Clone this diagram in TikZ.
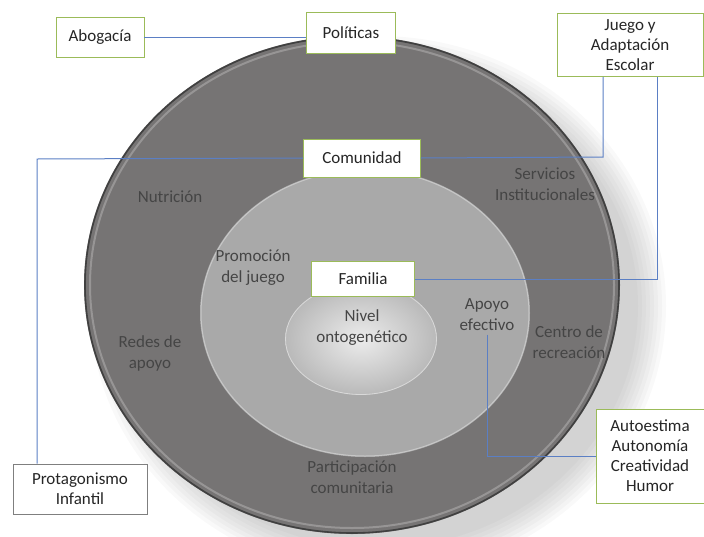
\documentclass[tikz,border=0pt]{standalone}
\usepackage{fontspec}
\setmainfont{Carlito}
\definecolor{verdecaja}{HTML}{9BBB59}
\definecolor{grisborde}{HTML}{7F7F7F}
\definecolor{azullinea}{HTML}{5B7FC4}
\definecolor{anilloext}{HTML}{767474}
\definecolor{anillomed}{HTML}{A9A9A9}
\definecolor{textoanillo}{HTML}{454545}
\tikzset{
  caja/.style={draw=verdecaja, line width=0.8pt, fill=white, align=center, inner sep=0pt, text=black!85},
  rotulo/.style={text=textoanillo, align=center, font=\fontsize{17}{21}\selectfont},
  enlace/.style={draw=azullinea, line width=1pt}
}
\begin{document}
\begin{tikzpicture}[x=1pt, y=-1pt, font=\fontsize{17}{20}\selectfont]
    \useasboundingbox (0,0) rectangle (704,536);
    % sombra
    \foreach \r in {0,4,...,28}
        \fill[black, opacity=0.025] (378,306) ellipse ({260+\r} and {242+\r});
    % anillos
    \fill[anilloext] (352,285) ellipse (268 and 249);
    \draw[black!75, line width=1.6pt] (352,285) ellipse (267 and 248);
    \draw[white!40!anilloext, line width=2pt, opacity=0.6] (352,285) ellipse (262 and 243);
    \fill[anillomed] (365,313) ellipse (165 and 144);
    \draw[white!35!anillomed, line width=1pt] (365,313) ellipse (164 and 143);
    \shade[inner color=gray!15, outer color=gray!55] (361,339) ellipse (76 and 56);
    \draw[gray!30, line width=0.8pt] (361,339) ellipse (75.5 and 55.5);
    % rotulos de los anillos
    \node[rotulo] (nutricion) at (170,197) {Nutrici\'on};
    \node[rotulo] (servicios) at (545,184) {Servicios\\Institucionales};
    \node[rotulo] (promocion) at (253,268) {Promoci\'on\\del juego};
    \node[rotulo] (redes) at (150,353) {Redes de\\apoyo};
    \node[rotulo] (centro) at (569,342) {Centro de\\recreaci\'on};
    \node[rotulo] (participacion) at (352,477) {Participaci\'on\\comunitaria};
    \node[rotulo] (nivel) at (362,328) {Nivel\\ontogen\'etico};
    \node[rotulo] (apoyo) at (487,315) {Apoyo\\efectivo};
    % cajas
    \node[caja, minimum width=88, minimum height=40] (abogacia) at (100,37) {Abogac\'ia};
    \node[caja, minimum width=89, minimum height=41] (politicas) at (351,33) {Pol\'iticas};
    \node[caja, minimum width=146, minimum height=63] (juego) at (630,45) {Juego y\\Adaptaci\'on\\Escolar};
    \node[caja, minimum width=117, minimum height=38] (comunidad) at (362,158) {Comunidad};
    \node[caja, minimum width=103, minimum height=35] (familia) at (363,279) {Familia};
    \node[caja, draw=grisborde, minimum width=134, minimum height=50] (protagonismo) at (80,489) {Protagonismo\\Infantil};
    \node[caja, minimum width=108, minimum height=94] (autoestima) at (650,456) {Autoestima\\Autonom\'ia\\Creatividad\\Humor};
    % enlaces
    \coordinate (codoA) at (37,159);
    \coordinate (codoB) at (603,157);
    \coordinate (codoC) at (657,279);
    \draw[enlace] (abogacia.east) -- (abogacia.east -| politicas.west);
    \draw[enlace] (comunidad.west) -- (codoA) -- (codoA |- protagonismo.north);
    \draw[enlace] (comunidad.east) -- (codoB) -- (codoB |- juego.south);
    \draw[enlace] (familia.east) -- (codoC) -- (codoC |- juego.south);
    \draw[enlace] (apoyo.south) |- (autoestima.west);
\end{tikzpicture}
\end{document}
